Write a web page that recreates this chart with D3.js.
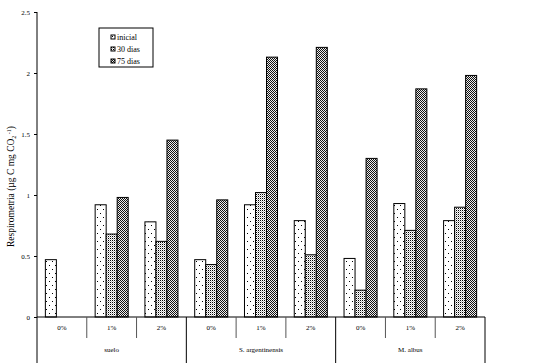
<!DOCTYPE html>
<html>
<head>
<meta charset="utf-8">
<script src="https://cdn.jsdelivr.net/npm/d3@7"></script>
<style>
  body { margin: 0; background: #fff; }
  text { font-family: "Liberation Serif", "DejaVu Serif", serif; fill: #000; }
</style>
</head>
<body>
<script>
var groups = ['suelo', 'S. argentinensis', 'M. albus'];
var doses = ['0%', '1%', '2%'];
var series = ['inicial', '30 dias', '75 dias'];
var inicial = [0.47, 0.92, 0.78, 0.47, 0.92, 0.79, 0.48, 0.93, 0.79];
var dias30 = [0, 0.68, 0.62, 0.43, 1.02, 0.51, 0.22, 0.71, 0.90];
var dias75 = [0, 0.98, 1.45, 0.96, 2.13, 2.21, 1.30, 1.87, 1.98];
var yTicks = [0, 0.5, 1, 1.5, 2, 2.5];

var width = 533, height = 363,
    padding = { top: 12, left: 37, right: 48, bottom: 46 };

var cats = [];
groups.forEach(g => doses.forEach(d => cats.push(g + '|' + d)));
var values = [inicial, dias30, dias75];

var svg = d3.select('body').append('svg')
    .attr('width', width).attr('height', height);

var defs = svg.append('defs');
// sparse dots
var p1 = defs.append('pattern').attr('id', 'p0').attr('patternUnits', 'userSpaceOnUse')
    .attr('width', 6).attr('height', 8);
p1.append('rect').attr('width', 6).attr('height', 8).attr('fill', '#fff');
p1.append('rect').attr('x', 1).attr('y', 1).attr('width', 1).attr('height', 1).attr('fill', '#000');
p1.append('rect').attr('x', 4).attr('y', 5).attr('width', 1).attr('height', 1).attr('fill', '#000');
// dense dots
var p2 = defs.append('pattern').attr('id', 'p1').attr('patternUnits', 'userSpaceOnUse')
    .attr('width', 2).attr('height', 2);
p2.append('rect').attr('width', 2).attr('height', 2).attr('fill', '#fff');
p2.append('rect').attr('width', 1).attr('height', 1).attr('fill', '#000');
p2.append('rect').attr('x', 1).attr('y', 1).attr('width', 1).attr('height', 1).attr('fill', '#bbb');
// checker
var p3 = defs.append('pattern').attr('id', 'p2').attr('patternUnits', 'userSpaceOnUse')
    .attr('width', 2).attr('height', 2);
p3.append('rect').attr('width', 2).attr('height', 2).attr('fill', '#eee');
p3.append('rect').attr('width', 1).attr('height', 1).attr('fill', '#111');
p3.append('rect').attr('x', 1).attr('y', 1).attr('width', 1).attr('height', 1).attr('fill', '#111');

var x0 = d3.scaleBand().domain(cats).range([padding.left, width - padding.right]);
var x1 = d3.scaleBand().domain(series).range([0, x0.bandwidth()]).paddingOuter(0.76);
var y = d3.scaleLinear().domain([0, 2.5]).range([height - padding.bottom, padding.top]);

// bars
var g = svg.append('g');
cats.forEach((c, i) => {
  series.forEach((s, j) => {
    var v = values[j][i];
    if (!v) return;
    g.append('rect')
      .attr('x', x0(c) + x1(s))
      .attr('y', y(v))
      .attr('width', x1.bandwidth())
      .attr('height', y(0) - y(v))
      .attr('fill', 'url(#p' + j + ')')
      .attr('stroke', '#000')
      .attr('stroke-width', 1);
  });
});

// y axis
var yAxis = d3.axisLeft(y).tickValues(yTicks).tickSize(3).tickPadding(4)
    .tickFormat(d => String(d));
var ya = svg.append('g').attr('transform', `translate(${padding.left},0)`).call(yAxis);
ya.select('.domain').remove();
ya.selectAll('text').style('font-family', '"Liberation Serif", serif').style('font-size', '7px');
svg.append('line').attr('x1', padding.left).attr('x2', padding.left)
    .attr('y1', padding.top).attr('y2', height).attr('stroke', '#000');

// x axis baseline
svg.append('line').attr('x1', padding.left).attr('x2', width - padding.right)
    .attr('y1', y(0)).attr('y2', y(0)).attr('stroke', '#000');

// category separators and labels
cats.forEach((c, i) => {
  var xr = x0(c) + x0.bandwidth();
  var major = (i % 3) === 2;
  svg.append('line').attr('x1', xr).attr('x2', xr)
    .attr('y1', y(0)).attr('y2', major ? height : y(0) + 21)
    .attr('stroke', major ? '#000' : '#555');
  svg.append('text').attr('x', x0(c) + x0.bandwidth() / 2).attr('y', y(0) + 13)
    .attr('text-anchor', 'middle').style('font-size', '7px').text(c.split('|')[1]);
});
groups.forEach((gr, k) => {
  var xs = x0(gr + '|0%'), xe = x0(gr + '|2%') + x0.bandwidth();
  svg.append('text').attr('x', (xs + xe) / 2).attr('y', y(0) + 35)
    .attr('text-anchor', 'middle').style('font-size', '7px').text(gr);
});

// y label
var yl = svg.append('text')
    .attr('transform', `translate(14,${(y(0) + y(2.5)) / 2 + 22}) rotate(-90)`)
    .attr('text-anchor', 'middle').style('font-size', '9.5px');
yl.append('tspan').text('Respirometria (µg C mg CO');
yl.append('tspan').attr('dy', 2).style('font-size', '6px').text('2');
yl.append('tspan').attr('dy', -5).style('font-size', '6px').text(' -1');
yl.append('tspan').attr('dy', 3).text(')');

// legend
var lg = svg.append('g').attr('transform', 'translate(99,28)');
lg.append('rect').attr('width', 54).attr('height', 39).attr('fill', '#fff')
    .attr('stroke', '#000').attr('stroke-width', 1);
series.forEach((s, j) => {
  var row = lg.append('g').attr('transform', `translate(12,${7 + j * 12})`);
  row.append('rect').attr('width', 4).attr('height', 4)
    .attr('fill', 'url(#p' + j + ')').attr('stroke', '#000').attr('stroke-width', 1);
  row.append('text').attr('x', 6).attr('y', 4.5).style('font-size', '8px').text(s);
});
</script>
</body>
</html>
